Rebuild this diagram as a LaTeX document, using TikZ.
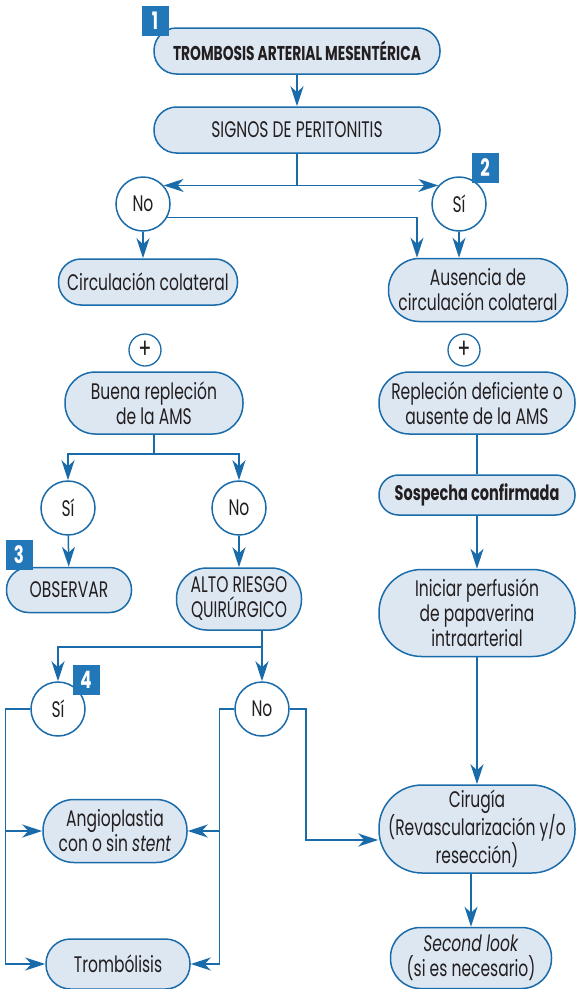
\documentclass[tikz,border=0pt]{standalone}
\usepackage{fontspec}
\setmainfont[FakeStretch=0.69]{Poppins}
\usepackage{tikz}
\usetikzlibrary{arrows.meta}
\definecolor{azul}{RGB}{26,107,170}
\definecolor{celeste}{RGB}{221,231,242}
\definecolor{azulnum}{RGB}{33,119,184}
\definecolor{texto}{RGB}{35,31,32}

\begin{document}
\begin{tikzpicture}[x=1pt, y=-1pt, >={Stealth[length=20pt, width=13pt, inset=6pt]},
		font=\fontsize{22.5}{25}\selectfont, text=texto,
		block/.style 2 args={draw=azul, fill=celeste, line width=1.5pt, align=center, inner sep=0pt,
			minimum width=#1pt, minimum height=#2pt, rounded corners=0.49*#2pt},
		decision/.style={circle, draw=azul, fill=white, line width=1.5pt, minimum size=54pt, inner sep=0pt},
		mas/.style={circle, draw=azul, fill=white, line width=1.3pt, minimum size=32pt, inner sep=0pt,
			font=\fontsize{28}{28}\selectfont},
		num/.style={fill=azulnum, text=white, minimum width=27pt, minimum height=30pt, inner sep=0pt,
			font=\fontsize{24}{24}\selectfont\bfseries},
		conn/.style={draw=azul, line width=1.5pt}]
	\useasboundingbox (0,0) rectangle (577,989);

	% Inicio
	\node [block={286}{46}, font=\fontsize{20}{22}\selectfont\bfseries] (tma) at (297,51) {TROMBOSIS ARTERIAL MESENTÉRICA};
	\node [block={286}{46}] (signos) at (297,130) {SIGNOS DE PERITONITIS};
	\node [decision] (no1) at (143,204) {No};
	\node [decision] (si1) at (459,204) {Sí};

	% Rama izquierda
	\node [block={179}{46}] (circ) at (148,282) {Circulación colateral};
	\node [mas] (mas1) at (145,350) {+};
	\node [block={178}{62}] (buena) at (154,403) {Buena repleción\\de la AMS};
	\node [decision] (si2) at (68,508) {Sí};
	\node [decision] (no2) at (239,508) {No};
	\node [block={125}{45}] (observar) at (69,590) {OBSERVAR};
	\node [block={125}{62}] (alto) at (239,599) {ALTO RIESGO\\QUIRÚRGICO};
	\node [decision] (si3) at (58,709) {Sí};
	\node [decision] (no3) at (262,709) {No};
	\node [block={144}{63}] (angio) at (115,831) {Angioplastia\\con o sin \textit{stent}};
	\node [block={144}{50}] (tromb) at (118,964) {Trombólisis};

	% Rama derecha
	\node [block={179}{63}] (ausencia) at (478,290) {Ausencia de\\circulación colateral};
	\node [mas] (mas2) at (464,350) {+};
	\node [block={196}{62}] (replecion) at (477,403) {Repleción deficiente o\\ausente de la AMS};
	\node [block={196}{40}, font=\fontsize{21}{23}\selectfont\bfseries] (sospecha) at (477,495) {Sospecha confirmada};
	\node [block={196}{87}] (iniciar) at (477,613) {Iniciar perfusión\\de papaverina\\intraarterial};
	\node [block={196}{88}] (cirugia) at (477,829) {Cirugía\\(Revascularización y/o\\resección)};
	\node [block={161}{61}] (second) at (471,958) {\textit{Second look}\\(si es necesario)};

	% Collegamenti parte alta
	\draw [conn, ->] (tma) -- (signos);
	\draw [conn, ->] (signos.south) |- (no1.42);
	\draw [conn, ->] (signos.south) |- (si1.138);
	\draw [conn, ->] (no1.south) -- (no1.south |- circ.north);
	\draw [conn, ->] (no1.-29) -| ([xshift=-61pt]ausencia.north);
	\draw [conn, ->] (si1.south) -- (si1.south |- ausencia.north);

	% Buena replecion
	\draw [conn, ->] (buena.south) -- ++(0,19) -| (si2.north);
	\draw [conn, ->] (buena.south) -- ++(0,19) -| (no2.north);
	\draw [conn, ->] (si2) -- (observar);
	\draw [conn, ->] (no2) -- (alto);
	\draw [conn, ->] (no3.north |- alto.south) -- ++(0,16) -| (si3.north);
	\draw [conn, ->] (no3.north |- alto.south) -- (no3.north);

	% Si / No finali
	\draw [conn, ->] (si3.west) -- ++(-25,0) |- (angio.west);
	\draw [conn, ->] (si3.west) -- ++(-25,0) |- (tromb.west);
	\draw [conn, ->] (no3.west) -- ++(-15,0) |- (angio.east);
	\draw [conn, ->] (no3.west) -- ++(-15,0) |- (tromb.east);
	\draw [conn, ->] (no3.east) -- ++(16,0) |- ([yshift=-11pt]cirugia.west);

	% Colonna destra
	\draw [conn] (replecion) -- (sospecha);
	\draw [conn, ->] (sospecha) -- (iniciar);
	\draw [conn, ->] (iniciar) -- (cirugia);
	\draw [conn, ->] (cirugia.south -| second.north) -- (second.north);

	% Numeri
	\node [num] (n1) at (155,21) {1};
	\node [num] (n2) at (485,168) {2};
	\node [num] (n3) at (19,555) {3};
	\node [num] (n4) at (86,680) {4};
\end{tikzpicture}
\end{document}
